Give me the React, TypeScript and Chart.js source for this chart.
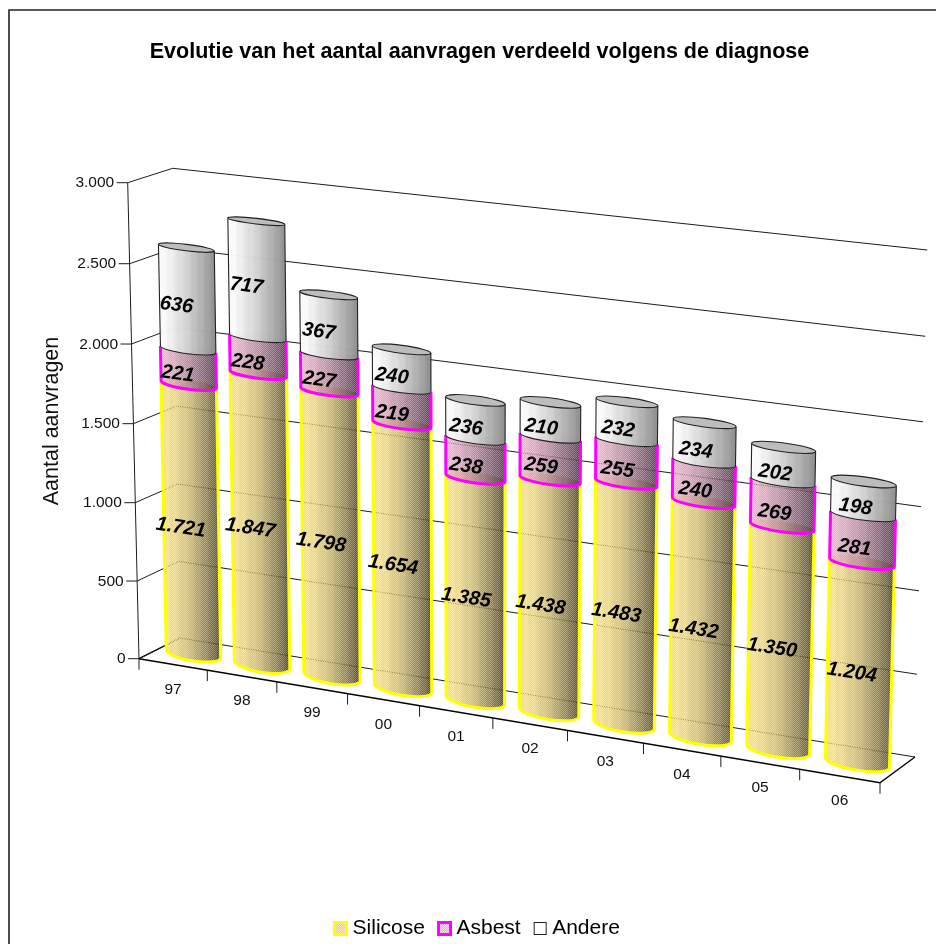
import React, { useEffect, useRef } from "react";
import { Chart, registerables, LinearScale, CategoryScale } from "chart.js";

Chart.register(...registerables);

const years = ["97", "98", "99", "00", "01", "02", "03", "04", "05", "06"];
const silicose = [1721, 1847, 1798, 1654, 1385, 1438, 1483, 1432, 1350, 1204];
const asbest = [221, 228, 227, 219, 238, 259, 255, 240, 269, 281];
const andere = [636, 717, 367, 240, 236, 210, 232, 234, 202, 198];
const titleText = "Evolutie van het aantal aanvragen verdeeld volgens de diagnose";
const axisText = "Aantal aanvragen";

const FONT = '"Liberation Sans", Arial, sans-serif';
const LINE = "#1c1c1c";

// projection box of the 3D scene: front/back, bottom/top, left/right
const FBL = [139, 658.7], FBR = [880, 782.7], FTL = [127.7, 182.7], FTR = [893, 270];
const BBL = [180, 638], BBR = [915, 757], BTL = [172.7, 168.3], BTR = [927.3, 250];
const warpU = 1.094, warpV = 1.0254;
const warp = (t: number, k: number) => t / (t + (1 - t) * k);
const mix = (a: number[], b: number[], t: number) => [a[0] + (b[0] - a[0]) * t, a[1] + (b[1] - a[1]) * t];

function project(u: number, v: number, w: number) {
  const uu = warp(u, warpU), vv = warp(v, warpV);
  const f = mix(mix(FBL, FBR, uu), mix(FTL, FTR, uu), vv);
  const b = mix(mix(BBL, BBR, uu), mix(BTL, BTR, uu), vv);
  return mix(f, b, w);
}
const fmt = (n: number) => String(n).replace(/\B(?=(\d{3})+$)/g, ".");

function seg(ctx: any, pts: number[][]) {
  ctx.beginPath();
  pts.forEach((p, i) => (i ? ctx.lineTo(p[0], p[1]) : ctx.moveTo(p[0], p[1])));
}

class WallY extends (LinearScale as any) {
  static id = "wallY";
  static defaults = (LinearScale as any).defaults;
  drawGrid() {
    const ctx = this.ctx;
    ctx.save();
    ctx.strokeStyle = LINE;
    ctx.lineWidth = 1;
    for (const t of this.ticks) {
      const v = (this.bottom - this.getPixelForValue(t.value)) / this.height;
      const a = project(0, v, 0), b = project(0, v, 1), c = project(1, v, 1);
      seg(ctx, [[a[0] - 11, a[1]], a, b, c]);
      ctx.stroke();
    }
    seg(ctx, [project(0, 0, 0), project(0, 1, 0)]);
    ctx.stroke();
    ctx.restore();
  }
  drawBorder() {}
  drawLabels() {
    const ctx = this.ctx;
    ctx.save();
    ctx.font = `15.5px ${FONT}`;
    ctx.fillStyle = "#111";
    ctx.textAlign = "right";
    ctx.textBaseline = "middle";
    for (const t of this.ticks) {
      const v = (this.bottom - this.getPixelForValue(t.value)) / this.height;
      const a = project(0, v, 0);
      ctx.fillText(t.label, a[0] - 13.5, a[1] + 0.5);
    }
    ctx.restore();
  }
}

class WallX extends (CategoryScale as any) {
  static id = "wallX";
  static defaults = (CategoryScale as any).defaults;
  drawGrid() {
    const ctx = this.ctx;
    ctx.save();
    ctx.strokeStyle = LINE;
    ctx.lineWidth = 1;
    for (let i = 0; i <= this.ticks.length; i++) {
      const p = project(i / this.ticks.length, 0, 0);
      seg(ctx, [p, [p[0], p[1] + 11]]);
      ctx.stroke();
    }
    ctx.strokeStyle = "#000";
    ctx.lineWidth = 1.4;
    seg(ctx, [project(0, 0, 0), project(1, 0, 0), project(1, 0, 1)]);
    ctx.stroke();
    seg(ctx, [project(0, 0, 0), project(0, 0, 1)]);
    ctx.stroke();
    ctx.restore();
  }
  drawBorder() {}
  drawLabels() {
    const ctx = this.ctx;
    ctx.save();
    ctx.font = `15.5px ${FONT}`;
    ctx.fillStyle = "#111";
    ctx.textAlign = "center";
    ctx.textBaseline = "middle";
    this.ticks.forEach((t: any, i: number) => {
      const p = project((i + 0.5) / this.ticks.length, 0, 0);
      ctx.fillText(t.label, p[0], p[1] + 25);
    });
    ctx.restore();
  }
}
Chart.register(WallX as any, WallY as any);

const looks = [
  { light: [250, 226, 125], dark: [80, 68, 38], stroke: "#ffff00", width: 3, hole: 0.3, pow: 1.8 },
  { light: [240, 180, 205], dark: [88, 60, 80], stroke: "#ff00ff", width: 3, hole: 0.3, pow: 1.4 },
  { light: [255, 255, 255], dark: [140, 140, 140], stroke: "#222222", width: 1.1, hole: 0.05, pow: 1.3 },
];
const ripple = [0, 0.05, -0.03, 0.06, -0.05, 0.03, 0.07, -0.04, 0.02, -0.06, 0.05, -0.02, 0.06, -0.05, 0.04, -0.03, 0.05, 0];

function checker(alpha: number) {
  const c = document.createElement("canvas");
  c.width = c.height = 2;
  const x = c.getContext("2d")!;
  x.fillStyle = `rgba(0,0,0,${alpha})`;
  x.fillRect(0, 0, 1, 1);
  x.fillRect(1, 1, 1, 1);
  return c;
}

function ring(u: number, r: number, v: number) {
  const L = project(u - r, v, 0.5), R = project(u + r, v, 0.5);
  const cx = (L[0] + R[0]) / 2, cy = (L[1] + R[1]) / 2;
  return { L, R, cx, cy, a: Math.hypot(R[0] - L[0], R[1] - L[1]) / 2, rot: Math.atan2(R[1] - L[1], R[0] - L[0]), b: 7.5 - 5 * v };
}
const arc = (p: any, e: any, from: number, to: number) => p.ellipse(e.cx, e.cy, e.a, e.b, e.rot, from, to, false);

function drawSegment(ctx: any, el: any, xs: any, ys: any, look: any, isTop: boolean) {
  const u = (el.x - xs.left) / xs.width, r = el.width / 2 / xs.width;
  const vTop = (ys.bottom - el.y) / ys.height, vBase = (ys.bottom - el.base) / ys.height;
  const T = ring(u, r, vTop), B = ring(u, r, vBase);

  const body = new Path2D();
  arc(body, T, Math.PI, Math.PI * 2);
  body.lineTo(B.R[0], B.R[1]);
  arc(body, B, 0, Math.PI);
  body.closePath();

  // even origin keeps the stipple in phase across all bars
  const x0 = (Math.floor(Math.min(T.L[0], B.L[0])) - 2) & ~1;
  const y0 = (Math.floor(T.cy - T.a) - 2) & ~1;
  const w = Math.ceil(Math.max(T.R[0], B.R[0])) + 2 - x0;
  const h = Math.ceil(B.cy + B.a) + 2 - y0;
  const off = document.createElement("canvas");
  off.width = w;
  off.height = h;
  const o = off.getContext("2d")!;
  o.translate(-x0, -y0);
  const g = o.createLinearGradient(Math.min(T.L[0], B.L[0]), 0, Math.max(T.R[0], B.R[0]), 0);
  ripple.forEach((d, i) => {
    const t = i / (ripple.length - 1);
    const s = Math.max(0, Math.min(1, Math.pow(t, look.pow) + d * 0.5));
    const c = look.light.map((l: number, k: number) => Math.round(l + (look.dark[k] - l) * s));
    g.addColorStop(t, `rgb(${c.join(",")})`);
  });
  o.fillStyle = g;
  o.fill(body);
  o.globalCompositeOperation = "destination-out";
  o.fillStyle = o.createPattern(checker(look.hole), "repeat")!;
  o.setTransform(1, 0, 0, 1, 0, 0);
  o.fillRect(0, 0, w, h);
  ctx.drawImage(off, x0, y0);

  ctx.save();
  ctx.strokeStyle = look.stroke;
  ctx.lineWidth = look.width;
  ctx.lineJoin = "round";
  ctx.beginPath();
  ctx.moveTo(T.L[0], T.L[1]);
  ctx.lineTo(B.L[0], B.L[1]);
  ctx.ellipse(B.cx, B.cy, B.a, B.b, B.rot, Math.PI, 0, true);
  ctx.lineTo(T.R[0], T.R[1]);
  ctx.stroke();
  if (isTop) {
    ctx.beginPath();
    ctx.ellipse(T.cx, T.cy, T.a, T.b, T.rot, 0, Math.PI * 2);
    ctx.fillStyle = "#bdbdbd";
    ctx.fill();
    ctx.stroke();
  }
  ctx.restore();
}

function makeSwatch(i: number) {
  const c = document.createElement("canvas");
  c.width = c.height = 15;
  const x = c.getContext("2d")!;
  if (i === 2) {
    x.fillStyle = "#fff";
    x.fillRect(0, 0, 15, 15);
    x.strokeStyle = "#222";
    x.lineWidth = 1;
    x.strokeRect(1.5, 1.5, 12, 12);
  } else {
    const look = looks[i];
    x.fillStyle = i === 0 ? "#f2c978" : "#f0a8c8";
    x.fillRect(0, 0, 15, 15);
    x.fillStyle = x.createPattern(checker(0.6), "repeat")!;
    x.globalCompositeOperation = "destination-out";
    x.fillRect(0, 0, 15, 15);
    x.globalCompositeOperation = "source-over";
    x.strokeStyle = look.stroke;
    x.lineWidth = 3;
    x.strokeRect(1.5, 1.5, 12, 12);
  }
  return c;
}

const cylinders = {
  id: "cylinders",
  beforeDraw(chart: any) {
    const c = chart.ctx;
    c.save();
    c.strokeStyle = "#222";
    c.lineWidth = 1.6;
    c.beginPath();
    c.moveTo(9, 944);
    c.lineTo(9, 10);
    c.lineTo(936, 10);
    c.stroke();
    c.restore();
  },
  beforeDatasetsDraw(chart: any) {
    const ctx = chart.ctx;
    const xs = chart.scales.x, ys = chart.scales.y;
    const metas = chart.data.datasets.map((_: any, i: number) => chart.getDatasetMeta(i));
    const count = chart.data.labels.length;
    for (let i = 0; i < count; i++) {
      metas.forEach((m: any, d: number) => drawSegment(ctx, m.data[i], xs, ys, looks[d], d === metas.length - 1));
    }
    ctx.save();
    ctx.font = `italic bold 20px ${FONT}`;
    ctx.fillStyle = "#000";
    ctx.textAlign = "center";
    ctx.textBaseline = "middle";
    metas.forEach((m: any, d: number) => {
      m.data.forEach((el: any, i: number) => {
        const u = (el.x - xs.left) / xs.width;
        const v = ((ys.bottom - el.y) / ys.height + (ys.bottom - el.base) / ys.height) / 2;
        const p = project(u, v, 0.15);
        const a = project(u - 0.05, v, 0.15), b = project(u + 0.05, v, 0.15);
        ctx.save();
        ctx.translate(p[0] + 4.5, p[1] + 1);
        ctx.rotate(Math.atan2(b[1] - a[1], b[0] - a[0]));
        ctx.fillText(fmt(chart.data.datasets[d].data[i]), 0, 0);
        ctx.restore();
      });
    });
    ctx.restore();
    return false;
  },
};

export default function App() {
  const ref = useRef<HTMLCanvasElement>(null);
  useEffect(() => {
    const swatches = [makeSwatch(0), makeSwatch(1), makeSwatch(2)];
    const chart = new Chart(ref.current!, {
      type: "bar",
      data: {
        labels: years,
        datasets: [
          { label: "Silicose", data: silicose, backgroundColor: "#f6dc8c", borderColor: "#ffff00" },
          { label: "Asbest", data: asbest, backgroundColor: "#f5c0d6", borderColor: "#ff00ff" },
          { label: "Andere", data: andere, backgroundColor: "#ffffff", borderColor: "#222222" },
        ],
      },
      options: {
        responsive: false,
        animation: false,
        layout: { padding: { left: 23, right: 0, top: 0, bottom: -5 } },
        datasets: { bar: { barPercentage: 0.8, categoryPercentage: 1 } },
        plugins: {
          tooltip: { enabled: false },
          title: {
            display: true,
            text: titleText,
            color: "#000",
            font: { family: FONT, size: 21.5, weight: "bold" },
            padding: { top: 39.1, bottom: 118.1 },
          },
          legend: {
            position: "bottom",
            labels: {
              color: "#000",
              font: { family: FONT, size: 21 },
              usePointStyle: true,
              boxWidth: 3,
              padding: 18,
              generateLabels(c: any) {
                return Chart.defaults.plugins.legend.labels.generateLabels(c).map((l: any, i: number) => ({ ...l, pointStyle: swatches[i] }));
              },
            },
          },
        },
        scales: {
          x: {
            type: "wallX",
            stacked: true,
            grid: { display: false },
            ticks: { autoSkip: false, maxRotation: 0 },
            afterFit(s: any) { s.height = 241; },
          },
          y: {
            type: "wallY",
            stacked: true,
            min: 0,
            max: 3000,
            ticks: { stepSize: 500, callback: (v: number) => fmt(v) },
            title: {
              display: true,
              text: axisText,
              color: "#111",
              font: { family: FONT, size: 21.5 },
              padding: { top: 16.4, bottom: 0 },
            },
            afterFit(s: any) { s.width = 104; },
          },
        },
      } as any,
      plugins: [cylinders],
    } as any);
    return () => chart.destroy();
  }, []);
  return <canvas ref={ref} width={936} height={944} style={{ position: "absolute", left: 0, top: 0, display: "block" }} />;
}
